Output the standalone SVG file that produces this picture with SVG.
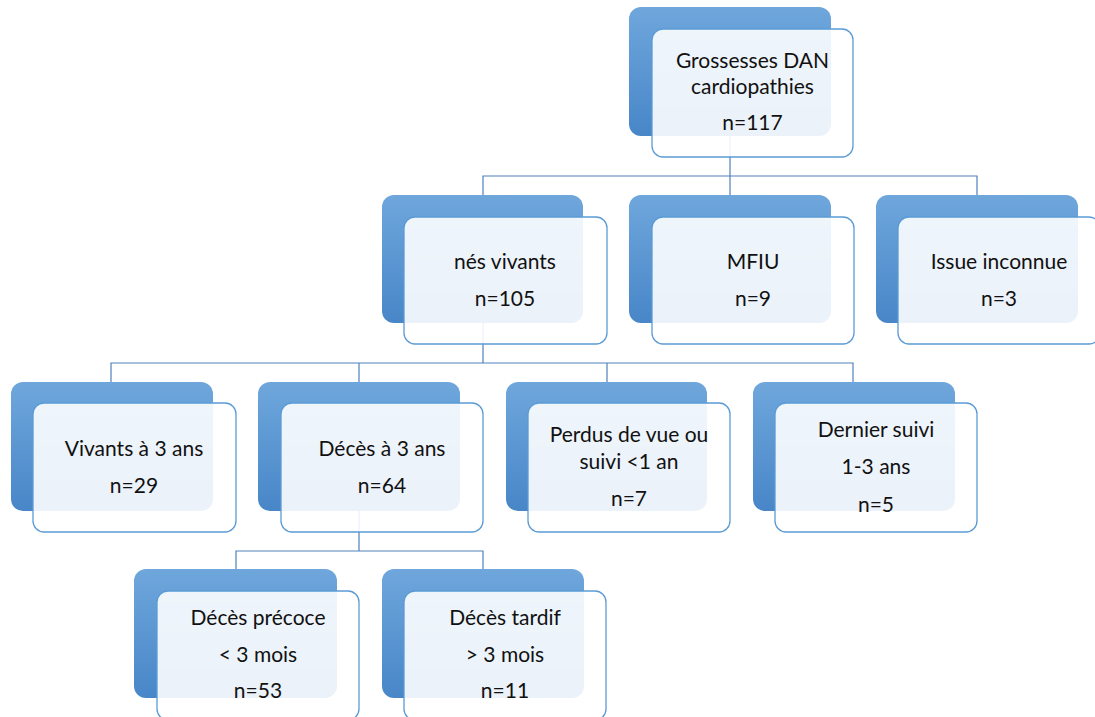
<svg xmlns="http://www.w3.org/2000/svg" width="1095" height="717" viewBox="0 0 1095 717">
<defs>
<linearGradient id="bg" x1="0" y1="0" x2="0" y2="1">
<stop offset="0" stop-color="#6FA7DC"/>
<stop offset="1" stop-color="#4886C8"/>
</linearGradient>
<style>
.back{fill:url(#bg);}
.front{fill:#ffffff;fill-opacity:0.89;stroke:#5B9BD5;stroke-width:1.3;}
.conn{fill:none;stroke:#4F81BD;stroke-width:1.2;}
text{font-family:Lato,"Liberation Sans",sans-serif;font-size:21px;fill:#111;text-anchor:middle;}
</style>
</defs>
<rect width="1095" height="717" fill="#ffffff"/>
<g id="connectors">
<path class="conn" d="M730,136 V176 M483,195 V176 H977 V195 M730,176 V195"/>
<path class="conn" d="M483,323 V363 M111,382 V363 H853 V382 M359,363 V382 M607,363 V382"/>
<path class="conn" d="M359,511 V551 M236,569 V551 H483 V569"/>
</g>
<g id="n-grossesses">
<rect class="back" x="629" y="7" width="202" height="129" rx="12"/>
<rect class="front" x="652" y="29" width="201" height="128" rx="11"/>
<text x="752.5" y="68">Grossesses DAN</text>
<text x="752.5" y="94">cardiopathies</text>
<text x="752.5" y="130">n=117</text>
</g>
<g id="n-nes-vivants">
<rect class="back" x="382" y="195" width="201" height="128" rx="12"/>
<rect class="front" x="404" y="217" width="203" height="127" rx="11"/>
<text x="505" y="269">nés vivants</text>
<text x="505" y="306">n=105</text>
</g>
<g id="n-mfiu">
<rect class="back" x="629" y="195" width="202" height="128" rx="12"/>
<rect class="front" x="652" y="217" width="202" height="127" rx="11"/>
<text x="753" y="269">MFIU</text>
<text x="753" y="306">n=9</text>
</g>
<g id="n-issue">
<rect class="back" x="876" y="195" width="202" height="128" rx="12"/>
<rect class="front" x="898" y="217" width="202" height="127" rx="11"/>
<text x="999" y="269">Issue inconnue</text>
<text x="999" y="306">n=3</text>
</g>
<g id="n-vivants3">
<rect class="back" x="11" y="382" width="202" height="129" rx="12"/>
<rect class="front" x="33" y="403" width="203" height="129" rx="11"/>
<text x="134" y="456">Vivants à 3 ans</text>
<text x="134" y="493">n=29</text>
</g>
<g id="n-deces3">
<rect class="back" x="258" y="382" width="202" height="129" rx="12"/>
<rect class="front" x="281" y="403" width="202" height="129" rx="11"/>
<text x="382" y="456">Décès à 3 ans</text>
<text x="382" y="493">n=64</text>
</g>
<g id="n-perdus">
<rect class="back" x="506" y="382" width="201" height="129" rx="12"/>
<rect class="front" x="528" y="403" width="202" height="129" rx="11"/>
<text x="629" y="442">Perdus de vue ou</text>
<text x="629" y="469">suivi &lt;1 an</text>
<text x="629" y="506">n=7</text>
</g>
<g id="n-dernier">
<rect class="back" x="753" y="382" width="202" height="129" rx="12"/>
<rect class="front" x="775" y="403" width="202" height="129" rx="11"/>
<text x="876" y="437">Dernier suivi</text>
<text x="876" y="474">1-3 ans</text>
<text x="876" y="512">n=5</text>
</g>
<g id="n-precoce">
<rect class="back" x="134" y="569" width="203" height="129" rx="12"/>
<rect class="front" x="157" y="591" width="202" height="129" rx="11"/>
<text x="258" y="625">Décès précoce</text>
<text x="258" y="662">&lt; 3 mois</text>
<text x="258" y="698">n=53</text>
</g>
<g id="n-tardif">
<rect class="back" x="382" y="569" width="202" height="129" rx="12"/>
<rect class="front" x="404" y="591" width="202" height="129" rx="11"/>
<text x="505" y="625">Décès tardif</text>
<text x="505" y="662">&gt; 3 mois</text>
<text x="505" y="698">n=11</text>
</g>
</svg>
